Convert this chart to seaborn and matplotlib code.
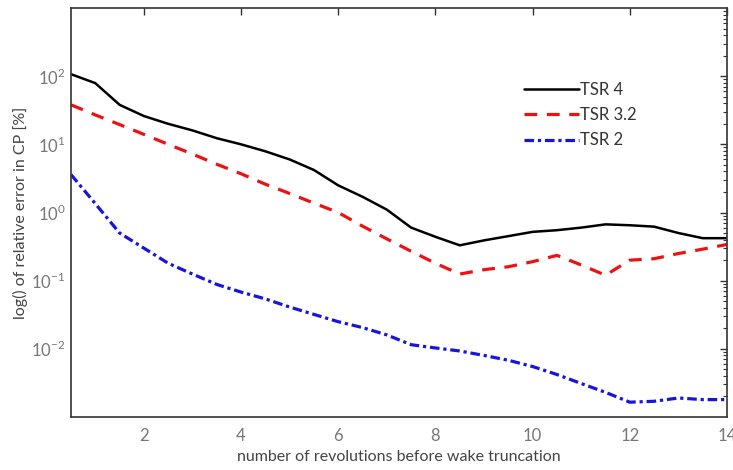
import numpy as np
import pandas as pd
import matplotlib
matplotlib.use("Agg")
import matplotlib.pyplot as plt
import seaborn as sns
from matplotlib.ticker import LogLocator, NullFormatter, FixedLocator, FixedFormatter

revolutions = [0.5, 1, 1.5, 2, 2.5, 3, 3.5, 4, 4.5, 5, 5.5, 6, 6.5, 7,
               7.5, 8, 8.5, 9, 9.5, 10, 10.5, 11, 11.5, 12, 12.5, 13, 13.5, 14]
tsr4 = [107, 79, 38, 26, 20, 16, 12.3, 10, 7.9, 6.0, 4.2, 2.5, 1.7, 1.1,
        0.6, 0.44, 0.33, 0.39, 0.45, 0.52, 0.55, 0.6, 0.67, 0.65, 0.62, 0.5, 0.42, 0.42]
tsr32 = [38, 27, 19.5, 14, 10, 7.2, 5.1, 3.7, 2.6, 1.9, 1.37, 1.0, 0.63, 0.41,
         0.27, 0.18, 0.125, 0.145, 0.16, 0.19, 0.235, 0.17, 0.12, 0.2, 0.21, 0.25, 0.29, 0.34]
tsr2 = [3.6, 1.35, 0.5, 0.3, 0.18, 0.125, 0.088, 0.068, 0.054, 0.041, 0.032, 0.025, 0.0205, 0.016,
        0.0115, 0.0103, 0.0093, 0.0080, 0.0068, 0.0055, 0.0042, 0.0031, 0.0023, 0.00165, 0.0017, 0.0019, 0.0018, 0.0018]
series_names = ["TSR 4", "TSR 3.2", "TSR 2"]
xticks = [2, 4, 6, 8, 10, 12, 14]
yticks = [1e-2, 1e-1, 1e0, 1e1, 1e2]
ytick_labels = ["$10^{-2}$", "$10^{-1}$", "$10^{0}$", "$10^{1}$", "$10^{2}$"]

sns.set_theme(style="white")
plt.rcParams['font.family'] = ['Lato', 'DejaVu Sans']
plt.rcParams['mathtext.fontset'] = 'custom'
plt.rcParams['mathtext.rm'] = 'Lato'

fig = plt.figure(figsize=(7.33, 4.70), dpi=100)
ax = fig.add_axes([71/733, 53/470, 656/733, 409/470])

styles = [("black", "-", 1.8), ("#ee1111", (0, (4, 3)), 2.3), ("#1515dd", (0, (3, 1.2, 1, 1.2)), 2.3)]
for name, vals, (col, ls, lw) in zip(series_names, [tsr4, tsr32, tsr2], styles):
    df = pd.DataFrame({"x": revolutions, "y": vals})
    sns.lineplot(data=df, x="x", y="y", ax=ax, color=col, linestyle=ls, linewidth=lw, label=name)

ax.set_yscale("log")
ax.set_xlim(0.5, 14)
ax.set_ylim(1e-3, 1e3)
ax.xaxis.set_major_locator(FixedLocator(xticks))
ax.yaxis.set_major_locator(FixedLocator(yticks))
ax.yaxis.set_major_formatter(FixedFormatter(ytick_labels))
ax.yaxis.set_minor_locator(LogLocator(base=10, subs=np.arange(2, 10), numticks=20))
ax.yaxis.set_minor_formatter(NullFormatter())
ax.tick_params(which="both", direction="in", top=True, right=True, colors="#333333",
               labelcolor="#777777", labelsize=12)
ax.tick_params(axis="x", which="major", pad=8)
ax.tick_params(axis="y", which="major", pad=4)
ax.tick_params(which="major", length=5, width=1)
ax.tick_params(which="minor", length=3, width=0.8)
for sp in ax.spines.values():
    sp.set_color("#333333")
    sp.set_linewidth(1.2)

ax.set_xlabel("number of revolutions before wake truncation", fontsize=11.5, color="#444444", labelpad=4)
ax.set_ylabel("log() of relative error in CP [%]", fontsize=11.5, color="#444444", labelpad=2)

leg = ax.legend(loc="upper left", bbox_to_anchor=(0.68, 0.835), frameon=False, fontsize=12,
                handlelength=3.3, handletextpad=0.1, labelspacing=0.55, borderaxespad=0)
for t in leg.get_texts():
    t.set_color("#333333")

fig.savefig("out.png", dpi=100)
